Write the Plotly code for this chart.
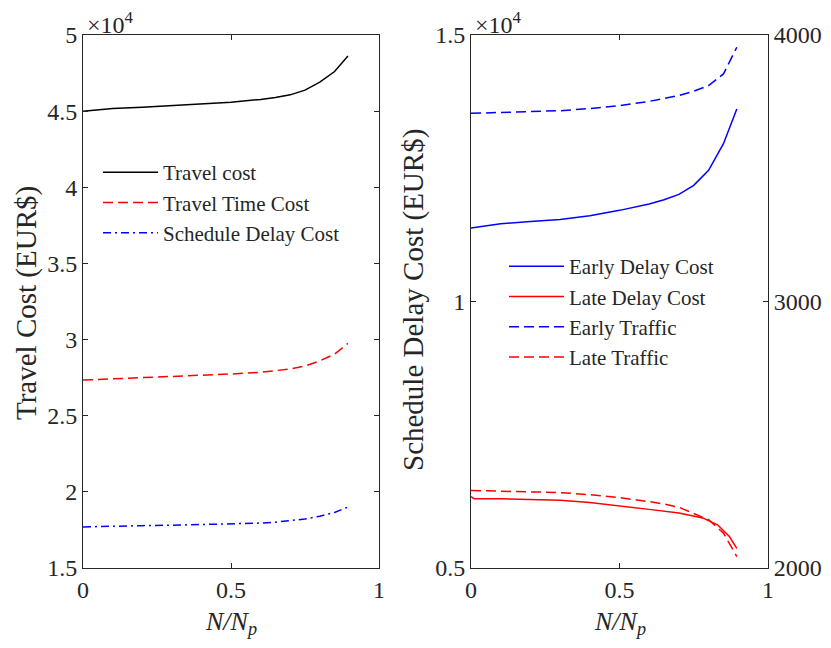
import plotly.graph_objects as go

# ---- data (left panel, values in 1e4 EUR$) ----
x_left = [0.0, 0.1, 0.2, 0.3, 0.4, 0.5, 0.6, 0.65, 0.7, 0.75, 0.8, 0.85, 0.895]
travel_cost = [4.50, 4.518, 4.525, 4.535, 4.545, 4.558, 4.577, 4.589, 4.607, 4.638, 4.69, 4.76, 4.862]
travel_time_cost = [2.734, 2.742, 2.748, 2.755, 2.764, 2.774, 2.785, 2.794, 2.807, 2.827, 2.86, 2.905, 2.975]
schedule_delay_cost = [1.77, 1.776, 1.778, 1.781, 1.785, 1.79, 1.795, 1.801, 1.81, 1.822, 1.84, 1.865, 1.90]

# ---- data (right panel) ----
x_right = [0.0, 0.1, 0.2, 0.3, 0.4, 0.5, 0.6, 0.65, 0.7, 0.75, 0.8, 0.85, 0.895]
early_delay_cost = [1.138, 1.146, 1.150, 1.154, 1.161, 1.171, 1.183, 1.191, 1.201, 1.218, 1.246, 1.296, 1.361]
x_late = [0.0, 0.01, 0.1, 0.2, 0.3, 0.4, 0.5, 0.6, 0.7, 0.78, 0.83, 0.87, 0.895]
late_delay_cost = [0.634, 0.630, 0.630, 0.629, 0.627, 0.623, 0.617, 0.610, 0.603, 0.594, 0.581, 0.559, 0.537]
early_traffic = [3706, 3709, 3712, 3716, 3724, 3735, 3751, 3761, 3773, 3789, 3810, 3854, 3954]
late_traffic = [2291, 2289, 2286, 2283, 2275, 2264, 2249, 2240, 2228, 2206, 2181, 2131, 2043]

# ---- ticks ----
x_ticks = [0, 0.5, 1]
x_ticktext = ["0", "0.5", "1"]
yl_ticks = [1.5, 2, 2.5, 3, 3.5, 4, 4.5, 5]
yl_ticktext = ["1.5", "2", "2.5", "3", "3.5", "4", "4.5", "5"]
yr_ticks = [0.5, 1, 1.5]
yr_ticktext = ["0.5", "1", "1.5"]
yr2_ticks = [2000, 3000, 4000]
yr2_ticktext = ["2000", "3000", "4000"]

# page body has an 8px margin, so figure coords = screen coords - 8
W, H = 823, 640
FONT = "Liberation Serif, Times New Roman, serif"
AX = "#262626"

fig = go.Figure()
fig.add_trace(go.Scatter(x=x_left, y=travel_cost, mode="lines", name="Travel cost",
                         line=dict(color="black", width=1.5), xaxis="x", yaxis="y", legend="legend"))
fig.add_trace(go.Scatter(x=x_left, y=travel_time_cost, mode="lines", name="Travel Time Cost",
                         line=dict(color="#FF0000", width=1.5, dash="10px,5px"), xaxis="x", yaxis="y", legend="legend"))
fig.add_trace(go.Scatter(x=x_left, y=schedule_delay_cost, mode="lines", name="Schedule Delay Cost",
                         line=dict(color="#0000FF", width=1.5, dash="8px,4px,2px,4px"), xaxis="x", yaxis="y", legend="legend"))

fig.add_trace(go.Scatter(x=x_right, y=early_delay_cost, mode="lines", name="Early Delay Cost",
                         line=dict(color="#0000FF", width=1.5), xaxis="x2", yaxis="y2", legend="legend2"))
fig.add_trace(go.Scatter(x=x_late, y=late_delay_cost, mode="lines", name="Late Delay Cost",
                         line=dict(color="#FF0000", width=1.5), xaxis="x2", yaxis="y2", legend="legend2"))
fig.add_trace(go.Scatter(x=x_right, y=early_traffic, mode="lines", name="Early Traffic",
                         line=dict(color="#0000FF", width=1.5, dash="10px,5px"), xaxis="x2", yaxis="y3", legend="legend2"))
fig.add_trace(go.Scatter(x=x_right, y=late_traffic, mode="lines", name="Late Traffic",
                         line=dict(color="#FF0000", width=1.5, dash="10px,5px"), xaxis="x2", yaxis="y3", legend="legend2"))

ydom = [(H - 560) / H, (H - 27) / H]
axcommon = dict(showline=True, linecolor=AX, linewidth=1, ticks="inside", ticklen=5,
                tickcolor=AX, showgrid=False, zeroline=False, automargin=False,
                tickfont=dict(family=FONT, size=24, color=AX))

YTFONT = dict(family=FONT, size=29, color=AX)
XTFONT = dict(family=FONT, size=26, color=AX)
xtitle = "<i>N/N</i><sub><i>p</i></sub>"


def px(x):
    return x / W


def py(y):
    return 1 - y / H


fig.update_layout(
    width=W, height=H,
    margin=dict(l=0, r=0, t=0, b=0),
    paper_bgcolor="white", plot_bgcolor="white",
    font=dict(family=FONT, color=AX),
    xaxis=dict(domain=[px(75), px(371)], range=[0, 1], tickvals=x_ticks, ticktext=x_ticktext,
               mirror="ticks", anchor="y", **axcommon),
    yaxis=dict(domain=ydom, range=[1.5, 5], tickvals=yl_ticks, ticktext=yl_ticktext,
               mirror="ticks", anchor="x", **axcommon),
    xaxis2=dict(domain=[px(463), px(760)], range=[0, 1], tickvals=x_ticks, ticktext=x_ticktext,
                mirror="ticks", anchor="y2", **axcommon),
    yaxis2=dict(domain=ydom, range=[0.5, 1.5], tickvals=yr_ticks, ticktext=yr_ticktext,
                mirror=False, anchor="x2", **axcommon),
    yaxis3=dict(range=[2000, 4000], tickvals=yr2_ticks, ticktext=yr2_ticktext,
                overlaying="y2", side="right", anchor="x2", **axcommon),
    legend=dict(x=px(90), y=py(144), xanchor="left", yanchor="top",
                bgcolor="rgba(0,0,0,0)", font=dict(family=FONT, size=21, color=AX),
                tracegroupgap=0, itemwidth=55),
    legend2=dict(x=px(496), y=py(238), xanchor="left", yanchor="top",
                 bgcolor="rgba(0,0,0,0)", font=dict(family=FONT, size=21, color=AX),
                 tracegroupgap=0, itemwidth=55),
    annotations=[
        dict(text="×10<sup>4</sup>", x=px(77), y=py(32), xref="paper", yref="paper",
             xanchor="left", yanchor="bottom", showarrow=False,
             font=dict(family=FONT, size=24, color=AX)),
        dict(text="×10<sup>4</sup>", x=px(465), y=py(32), xref="paper", yref="paper",
             xanchor="left", yanchor="bottom", showarrow=False,
             font=dict(family=FONT, size=24, color=AX)),
        dict(text="Travel Cost (EUR$)", x=px(18), y=py(295), xref="paper", yref="paper",
             xanchor="center", yanchor="middle", textangle=-90, showarrow=False, font=YTFONT),
        dict(text="Schedule Delay Cost (EUR$)", x=px(405), y=py(292), xref="paper", yref="paper",
             xanchor="center", yanchor="middle", textangle=-90, showarrow=False, font=YTFONT),
        dict(text=xtitle, x=px(223), y=py(615), xref="paper", yref="paper",
             xanchor="center", yanchor="middle", showarrow=False, font=XTFONT),
        dict(text=xtitle, x=px(612), y=py(615), xref="paper", yref="paper",
             xanchor="center", yanchor="middle", showarrow=False, font=XTFONT),
    ],
)

fig.write_html("out.html")
